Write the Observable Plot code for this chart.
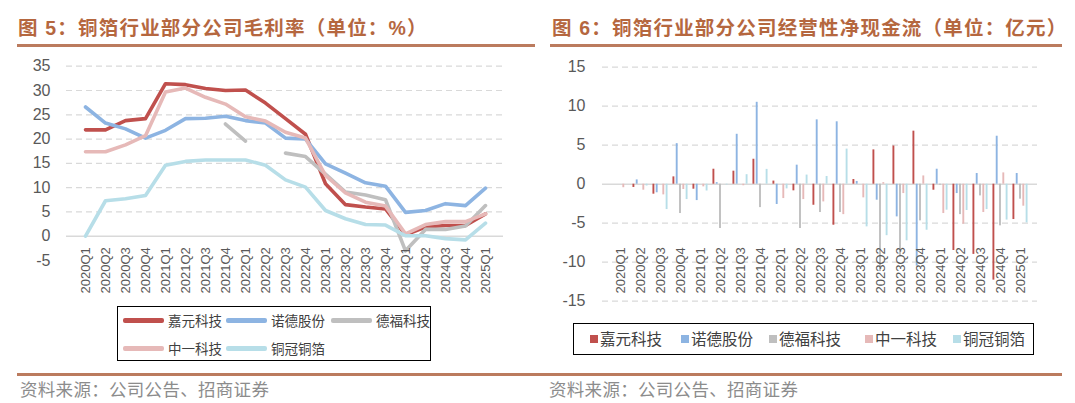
<!DOCTYPE html>
<html><head><meta charset="utf-8">
<script src="https://cdn.jsdelivr.net/npm/d3@7"></script>
<script src="https://cdn.jsdelivr.net/npm/@observablehq/plot@0.6"></script>
<style>
body{margin:0;background:#fff;}
#root{position:relative;width:1075px;height:403px;overflow:hidden;font-family:"Liberation Sans",Arial,"Noto Sans CJK SC",sans-serif;}
.title{position:absolute;top:15px;font-size:19.5px;letter-spacing:1.2px;font-weight:bold;color:#b5673f;font-family:"Liberation Sans","Noto Sans CJK SC",sans-serif;white-space:nowrap;line-height:26px;}
.rule{position:absolute;height:2.5px;background:#bb7b5e;}
.chart{position:absolute;top:50px;}
.legend{position:absolute;border:1.5px solid #000;box-sizing:border-box;background:#fff;font-family:"Noto Sans CJK SC",sans-serif;color:#404040;}
.legend .it{position:absolute;white-space:nowrap;}
.footer{position:absolute;top:377px;font-size:17.5px;letter-spacing:0.3px;line-height:24px;color:#8c8c8c;font-family:"Noto Sans CJK SC",sans-serif;white-space:nowrap;}
</style></head>
<body><div id="root">
<div class="title" style="left:18px">图 5：铜箔行业部分公司毛利率（单位：%）</div>
<div class="title" style="left:552px">图 6：铜箔行业部分公司经营性净现金流（单位：亿元）</div>
<div class="rule" style="left:17px;width:518px;top:44px"></div>
<div class="rule" style="left:550px;width:512px;top:44px"></div>
<div id="left" class="chart" style="left:0px"></div>
<div id="right" class="chart" style="left:540px"></div>
<div id="legL" class="legend" style="left:117px;top:306px;width:314px;height:55px;font-size:13.5px"></div>
<div id="legR" class="legend" style="left:573px;top:323px;width:461px;height:32px;font-size:15.5px"></div>
<div class="rule" style="left:17px;width:1045px;top:373px"></div>
<div class="footer" style="left:20px">资料来源：公司公告、招商证券</div>
<div class="footer" style="left:549px">资料来源：公司公告、招商证券</div>
</div>
<script>
const quarters = ["2020Q1","2020Q2","2020Q3","2020Q4","2021Q1","2021Q2","2021Q3","2021Q4","2022Q1","2022Q2","2022Q3","2022Q4","2023Q1","2023Q2","2023Q3","2023Q4","2024Q1","2024Q2","2024Q3","2024Q4","2025Q1"];
const seriesNames = ["嘉元科技","诺德股份","德福科技","中一科技","铜冠铜箔"];
const colors = ["#c0504d","#8db4e2","#bfbfbf","#e6b9b8","#b7dee8"];

// 毛利率 (%)
const jiayuanGM  = [21.9,21.9,23.8,24.2,31.4,31.2,30.4,30.0,30.1,27.4,24.2,21.0,10.8,6.5,6.0,5.6,0.3,1.9,2.2,2.2,4.6];
const nuodeGM    = [26.6,23.3,22.1,20.2,21.8,24.2,24.3,24.7,23.8,23.3,20.2,20.0,14.9,13.0,11.0,10.3,4.9,5.3,6.7,6.3,9.9];
const defuGM     = [null,null,null,null,null,null,null,23.1,19.6,null,17.1,16.4,12.8,9.1,8.5,7.5,-3.0,1.4,1.4,2.1,6.3];
const zhongyiGM  = [17.4,17.4,18.8,20.7,29.7,30.5,28.6,27.2,24.6,23.7,21.4,20.2,12.5,8.9,7.0,6.2,0.5,2.4,3.0,3.0,4.6];
const tongguanGM = [0,7.3,7.7,8.4,14.6,15.4,15.7,15.7,15.7,14.6,11.6,10.1,5.3,3.6,2.4,2.3,0.1,0.1,-0.5,-0.75,2.7];
const gmTicks = [-5,0,5,10,15,20,25,30,35];

// 经营性净现金流 (亿元)
const jiayuanCF  = [0,-0.42,-1.28,0.94,-0.64,1.92,1.67,3.2,0.4,-0.85,-2.7,-5.26,0.6,4.4,4.9,6.8,-0.77,-8.5,-9.0,-12.3,-4.53];
const nuodeCF    = [0,0.55,-1.1,5.2,-2.1,0.2,6.4,10.5,-2.6,2.44,8.25,8.0,0.35,-2.05,-4.19,-10.5,1.92,-1.2,1.37,6.15,1.37];
const defuCF     = [null,null,null,-3.76,null,-5.68,null,-3.0,null,-5.68,-3.63,-3.63,null,-11.2,-9.3,-4.7,-0.13,-3.9,-1.5,-5.34,-1.92];
const zhongyiCF  = [-0.45,-0.77,-1.37,-0.68,-0.34,0,-0.2,0,-1.84,-1.97,-2.27,-3.9,-1.75,0.2,-1.2,1.06,-3.76,-5.13,-3.63,1.45,-2.82];
const tongguanCF = [0,-0.23,-3.25,-1.97,-0.87,-0.1,1.22,1.9,-0.6,1.17,0.99,4.5,-5.47,-6.6,-7.26,-5.9,-3.33,-3.37,-3.25,-4.6,-4.96];
const cfTicks = [-15,-10,-5,0,5,10,15];

const gmSeries = [jiayuanGM, nuodeGM, defuGM, zhongyiGM, tongguanGM];
const cfSeries = [jiayuanCF, nuodeCF, defuCF, zhongyiCF, tongguanCF];
const rows = arr => arr.map((v,i)=>({q:quarters[i], v}));
const zeros = quarters.map(q=>({q, v:0}));
const fmt = d => String(d);

const baseStyle = {fontFamily:'"Liberation Sans",Arial,sans-serif', fontSize:"16px", color:"#595959", background:"transparent", overflow:"visible"};

// Left chart: lines
const left = Plot.plot({
  width:540, height:250, marginLeft:66, marginRight:37, marginTop:15.7, marginBottom:40,
  style: baseStyle,
  x:{type:"point", domain:quarters, padding:0.5, axis:null},
  y:{domain:[-5,35], axis:null},
  marks:[
    Plot.ruleY(gmTicks.filter(t=>t>0), {stroke:"#d9d9d9", strokeWidth:1.2, strokeDasharray:"6,4"}),
    Plot.ruleY([0], {stroke:"#d9d9d9", strokeWidth:1.5}),
    ...gmSeries.map((s,k)=>Plot.lineY(rows(s), {x:"q", y:"v", stroke:colors[k], strokeWidth:3.6, strokeLinejoin:"round", strokeLinecap:"round"})),
    Plot.axisY(gmTicks, {tickSize:0, tickPadding:16, fontSize:16, label:null, tickFormat:fmt}),
    Plot.text(zeros, {x:"q", y:"v", text:"q", rotate:-90, textAnchor:"end", dy:11, fontSize:13, fill:"#595959"})
  ]
});
document.getElementById("left").append(left);

// Right chart: grouped bars
const bw = 2.6, step = 3.3;
const right = Plot.plot({
  width:535, height:260, marginLeft:62, marginRight:38, marginTop:16.7, marginBottom:9.3,
  style: baseStyle,
  x:{type:"band", domain:quarters, padding:0, axis:null},
  y:{domain:[-15,15], axis:null},
  marks:[
    Plot.ruleY(cfTicks.filter(t=>t!==0), {stroke:"#d9d9d9", strokeWidth:1.2, strokeDasharray:"6,4"}),
    Plot.ruleY([0], {stroke:"#d9d9d9", strokeWidth:1.5}),
    ...cfSeries.map((s,k)=>Plot.barY(rows(s).filter(d=>d.v!==null), {x:"q", y:"v", fill:colors[k], dx:(k-2)*step, insetLeft:(20.714-bw)/2, insetRight:(20.714-bw)/2})),
    Plot.axisY(cfTicks, {tickSize:0, tickPadding:17, fontSize:16, label:null, tickFormat:fmt}),
    Plot.text(zeros, {x:"q", y:"v", text:"q", rotate:-90, textAnchor:"end", dy:63, fontSize:13, fill:"#595959"})
  ]
});
document.getElementById("right").append(right);

// Legends
const legL = document.getElementById("legL");
const posL = [[5,13],[108,13],[213,13],[5,41],[108,41]];
seriesNames.forEach((n,k)=>{
  const [x,y] = posL[k];
  const sw = document.createElement("div");
  sw.className="it";
  sw.style.cssText = `left:${x}px;top:${y-2}px;width:41px;height:4.5px;border-radius:2px;background:${colors[k]}`;
  legL.append(sw);
  const t = document.createElement("div");
  t.className="it"; t.textContent=n;
  t.style.cssText += `left:${x+45}px;top:${y-10}px;line-height:20px`;
  legL.append(t);
});
const legR = document.getElementById("legR");
const posR = [16,107,195,291,379];
seriesNames.forEach((n,k)=>{
  const x = posR[k];
  const sw = document.createElement("div");
  sw.className="it";
  sw.style.cssText = `left:${x}px;top:11px;width:8px;height:8px;background:${colors[k]}`;
  legR.append(sw);
  const t = document.createElement("div");
  t.className="it"; t.textContent=n;
  t.style.cssText += `left:${x+10}px;top:3px;line-height:22px`;
  legR.append(t);
});
</script>
</body></html>
